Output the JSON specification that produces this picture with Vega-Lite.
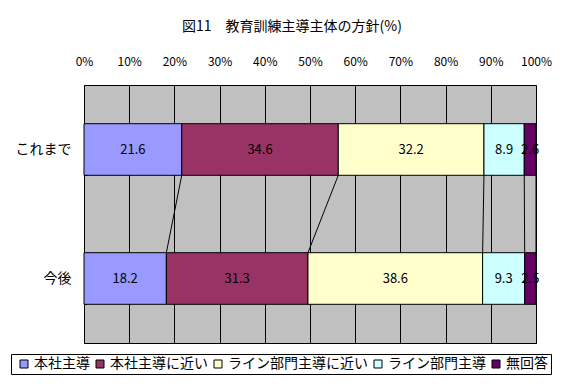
{
  "$schema": "https://vega.github.io/schema/vega-lite/v6.json",
  "width": 452,
  "height": 258,
  "autosize": "none",
  "padding": {"left": 84, "top": 85, "right": 42, "bottom": 43},
  "background": "white",
  "title": {"text": "図11　教育訓練主導主体の方針(%)", "fontSize": 14, "font": "Noto Sans CJK JP", "fontWeight": "normal", "color": "black", "anchor": "middle", "dx": -18, "offset": 21},
  "config": {
    "view": {"fill": "#C0C0C0", "stroke": "black", "strokeWidth": 1},
    "font": "Noto Sans CJK JP"
  },
  "datasets": {
    "d": [
      {"cat": "これまで", "series": "本社主導", "value": 21.6, "order": 1},
      {"cat": "これまで", "series": "本社主導に近い", "value": 34.6, "order": 2},
      {"cat": "これまで", "series": "ライン部門主導に近い", "value": 32.2, "order": 3},
      {"cat": "これまで", "series": "ライン部門主導", "value": 8.9, "order": 4},
      {"cat": "これまで", "series": "無回答", "value": 2.6, "order": 5},
      {"cat": "今後", "series": "本社主導", "value": 18.2, "order": 1},
      {"cat": "今後", "series": "本社主導に近い", "value": 31.3, "order": 2},
      {"cat": "今後", "series": "ライン部門主導に近い", "value": 38.6, "order": 3},
      {"cat": "今後", "series": "ライン部門主導", "value": 9.3, "order": 4},
      {"cat": "今後", "series": "無回答", "value": 2.5, "order": 5}
    ]
  },
  "data": {"name": "d"},
  "encoding": {
    "y": {
      "field": "cat", "type": "nominal", "sort": ["これまで", "今後"],
      "scale": {"paddingInner": 0.6, "paddingOuter": 0.3},
      "axis": {"title": null, "labelFontSize": 14, "labelColor": "black", "labelFont": "Noto Sans CJK JP", "domain": false, "tickBand": "extent", "tickSize": -3, "tickColor": "black", "labelPadding": 16, "grid": false}
    }
  },
  "layer": [
    {
      "mark": {"type": "bar", "stroke": "black", "strokeWidth": 1},
      "encoding": {
        "x": {
          "field": "value", "type": "quantitative", "stack": "normalize",
          "scale": {"domain": [0, 1]},
          "axis": {"orient": "top", "title": null, "format": ".0%", "values": [0, 0.1, 0.2, 0.3, 0.4, 0.5, 0.6, 0.7, 0.8, 0.9, 1], "grid": true, "gridColor": "black", "gridWidth": 1, "gridOpacity": 1, "ticks": false, "domain": false, "labelPadding": 17, "labelFontSize": 12, "labelColor": "black", "labelFont": "Noto Sans CJK JP", "labelFlush": false}
        },
        "color": {
          "field": "series", "type": "nominal",
          "scale": {"domain": ["本社主導", "本社主導に近い", "ライン部門主導に近い", "ライン部門主導", "無回答"], "range": ["#9999FF", "#993366", "#FFFFCC", "#CCFFFF", "#660066"]},
          "legend": {"orient": "none", "legendX": -73, "legendY": 269, "direction": "horizontal", "columns": 5, "title": null, "symbolType": "square", "symbolSize": 64, "symbolStrokeColor": "black", "symbolStrokeWidth": 1, "symbolOpacity": 1, "labelFontSize": 14, "labelColor": "black", "labelFont": "Noto Sans CJK JP", "strokeColor": "black", "fillColor": "white", "padding": 3, "columnPadding": 0, "labelOffset": 3, "symbolOffset": 3}
        },
        "order": {"field": "order", "type": "quantitative"}
      }
    },
    {
      "mark": {"type": "text", "fontSize": 13, "color": "black", "font": "Noto Sans CJK JP"},
      "encoding": {
        "x": {"field": "value", "type": "quantitative", "stack": "normalize", "bandPosition": 0.5},
        "detail": {"field": "series"},
        "order": {"field": "order", "type": "quantitative"},
        "text": {"field": "value", "type": "quantitative", "format": ".1f"}
      }
    },
    {
      "transform": [
        {"stack": "value", "groupby": ["cat"], "sort": [{"field": "order"}], "offset": "normalize", "as": ["v0", "v1"]},
        {"pivot": "cat", "value": "v1", "groupby": ["series"]}
      ],
      "mark": {"type": "rule", "color": "black", "strokeWidth": 1},
      "encoding": {
        "x": {"field": "これまで", "type": "quantitative"},
        "x2": {"field": "今後"},
        "y": {"datum": "これまで", "bandPosition": 1},
        "y2": {"datum": "今後", "bandPosition": 0}
      }
    }
  ]
}
